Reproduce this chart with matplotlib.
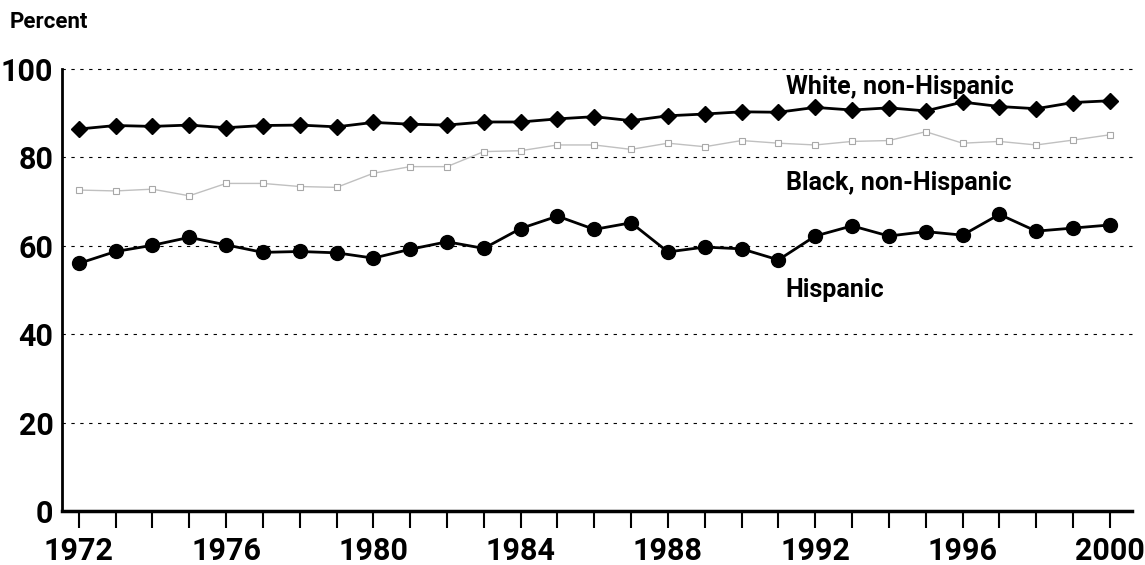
import matplotlib
matplotlib.use("Agg")
import matplotlib.pyplot as plt

years = list(range(1972, 2001))

white = [86.4, 87.2, 87.0, 87.3, 86.7, 87.2, 87.3, 86.9, 87.9, 87.5,
         87.3, 88.0, 88.0, 88.7, 89.2, 88.3, 89.4, 89.8, 90.3, 90.2,
         91.3, 90.7, 91.2, 90.5, 92.5, 91.5, 91.0, 92.4, 92.8]

black = [72.6, 72.4, 72.8, 71.3, 74.1, 74.1, 73.4, 73.2, 76.4, 77.9,
         77.9, 81.3, 81.5, 82.8, 82.8, 81.8, 83.2, 82.4, 83.8, 83.2,
         82.8, 83.6, 83.8, 85.8, 83.2, 83.6, 82.8, 83.9, 85.1]

hispanic = [56.0, 58.7, 60.1, 61.9, 60.2, 58.5, 58.7, 58.4, 57.2, 59.2,
            60.9, 59.4, 63.9, 66.7, 63.7, 65.2, 58.6, 59.7, 59.3, 56.8,
            62.2, 64.5, 62.2, 63.2, 62.4, 67.1, 63.3, 64.0, 64.7]

series_labels = ["White, non-Hispanic", "Black, non-Hispanic", "Hispanic"]
yticks = [0, 20, 40, 60, 80, 100]
xlabel_years = [1972, 1976, 1980, 1984, 1988, 1992, 1996, 2000]

plt.rcParams['font.family'] = ['Roboto', 'DejaVu Sans']

fig = plt.figure(figsize=(11.45, 5.65), dpi=100)
ax = fig.add_axes([0.054, 0.0956, 0.9346, 0.7824])

# dotted grid
for v in yticks[1:]:
    ax.axhline(v, color='black', lw=0.8, ls=(0, (3, 5)), zorder=1, clip_on=False)

ax.plot(years, black, color='#c0c0c0', lw=1.0, marker='s', ms=5,
        mfc='white', mec='#a8a8a8', mew=0.8, zorder=2)
ax.plot(years, white, color='black', lw=2, marker='D', ms=8.5, zorder=3)
ax.plot(years, hispanic, color='black', lw=2, marker='o', ms=10, zorder=3)

ax.text(1991.2, 95.9, series_labels[0], fontsize=18, fontweight='bold', va='center', ha='left')
ax.text(1991.2, 74.2, series_labels[1], fontsize=18, fontweight='bold', va='center', ha='left')
ax.text(1991.2, 50.0, series_labels[2], fontsize=18, fontweight='bold', va='center', ha='left')

ax.set_xlim(1971.54, 2000.6)
ax.set_ylim(0, 100)
ax.set_yticks(yticks)
ax.set_yticklabels([str(v) for v in yticks], fontsize=22, fontweight='bold')
ax.tick_params(axis='y', length=0, pad=6)
ax.set_xticks(years, minor=True)
ax.set_xticks(xlabel_years)
ax.set_xticklabels([str(y) for y in xlabel_years], fontsize=22, fontweight='bold')
ax.tick_params(axis='x', which='both', length=12, width=1.5, direction='out', pad=6)

for s in ['top', 'right']:
    ax.spines[s].set_visible(False)
ax.spines['left'].set_linewidth(2)
ax.spines['bottom'].set_linewidth(2.5)

fig.text(0.008, 0.961, "Percent", fontsize=16, fontweight='bold', ha='left', va='center')

fig.savefig("out.png", dpi=100)
